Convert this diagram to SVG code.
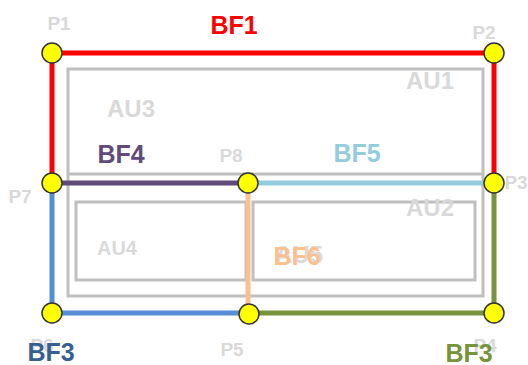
<svg xmlns="http://www.w3.org/2000/svg" width="528" height="365" viewBox="0 0 528 365">
<style>
text{font-family:"Liberation Sans",Arial,sans-serif;font-weight:bold;text-anchor:middle}
.au{fill:none;stroke:#BFBFBF;stroke-width:3}
.lbl{fill:#D9D9D9;font-size:19px}
.aul{fill:#D9D9D9;font-size:24px}
.bf{font-size:25px}
.ln{fill:none;stroke-width:5;stroke-linejoin:miter;stroke-linecap:butt}
.pt{fill:#FFFF00;stroke:#333333;stroke-width:1.5}
</style>
<g id="areas">
<rect class="au" x="68" y="69" width="415" height="227"/>
<line class="au" x1="68" y1="174" x2="483" y2="174"/>
<rect class="au" x="76" y="202" width="170" height="78"/>
<rect class="au" x="253" y="202" width="222" height="78"/>
</g>
<g id="area-labels">
<text class="aul" x="131" y="117">AU3</text>
<text class="aul" x="430" y="89">AU1</text>
<text class="aul" x="430" y="216">AU2</text>
<text class="aul" x="117" y="255" style="font-size:20px">AU4</text>
<text class="aul" x="299" y="263">AU5</text>
</g>
<g id="connectors">
<polyline class="ln" stroke="#FF0000" points="52,183 52,53 494,53 494,183"/>
<line class="ln" stroke="#604A7B" x1="52" y1="183" x2="248" y2="183"/>
<line class="ln" stroke="#93CDDD" x1="248" y1="183" x2="494" y2="183"/>
<polyline class="ln" stroke="#558ED5" points="52,183 52,313 248,313"/>
<polyline class="ln" stroke="#77933C" points="248,313 494,313 494,183"/>
<line class="ln" stroke="#FAC090" x1="248" y1="183" x2="248" y2="313"/>
</g>
<g id="connector-labels">
<text class="bf" x="234" y="34" fill="#FF0000">BF1</text>
<text class="bf" x="121" y="163" fill="#604A7B">BF4</text>
<text class="bf" x="357" y="162" fill="#93CDDD">BF5</text>
<text class="bf" x="297" y="265" fill="#FAC090">BF6</text>
</g>
<g id="P1"><circle class="pt" cx="52" cy="53" r="10"/><text class="lbl" x="59" y="30">P1</text></g>
<g id="P2"><circle class="pt" cx="494" cy="53" r="10"/><text class="lbl" x="484" y="39">P2</text></g>
<g id="P3"><circle class="pt" cx="494" cy="183" r="10"/><text class="lbl" x="516" y="189">P3</text></g>
<g id="P4"><circle class="pt" cx="494" cy="313" r="10"/><text class="lbl" x="485" y="352">P4</text></g>
<g id="P5"><circle class="pt" cx="249" cy="314" r="10"/><text class="lbl" x="232" y="356">P5</text></g>
<g id="P6"><circle class="pt" cx="52" cy="313" r="10"/><text class="lbl" x="42" y="352">P6</text></g>
<g id="P7"><circle class="pt" cx="52" cy="183" r="10"/><text class="lbl" x="20" y="203">P7</text></g>
<g id="P8"><circle class="pt" cx="248" cy="183" r="10"/><text class="lbl" x="231" y="162">P8</text></g>
<g id="bf3-labels">
<text class="bf" x="51" y="361" fill="#376092">BF3</text>
<text class="bf" x="469" y="362" fill="#77933C">BF3</text>
</g>
</svg>
